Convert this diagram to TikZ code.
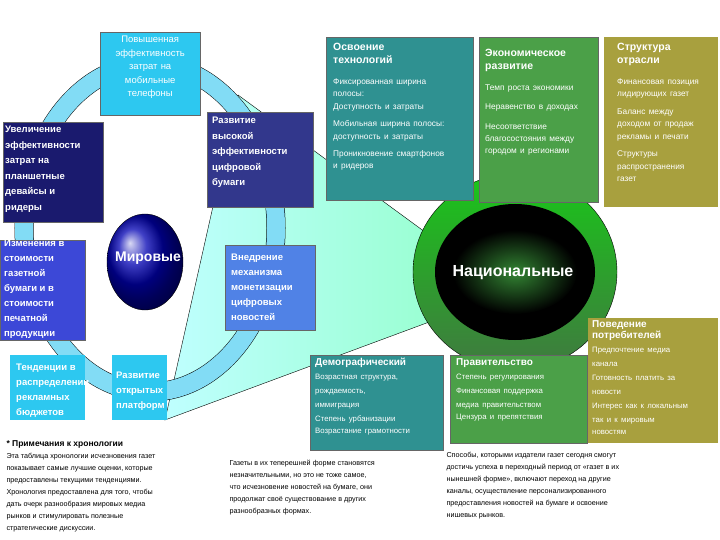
\documentclass[tikz,border=0pt]{standalone}
\usepackage{fontspec}
\setmainfont{Liberation Sans}
\definecolor{cbl}{RGB}{45,200,240}
\definecolor{nav}{RGB}{26,26,110}
\definecolor{cbx}{RGB}{50,55,140}
\definecolor{dbx}{RGB}{60,72,215}
\definecolor{ebx}{RGB}{80,130,230}
\definecolor{tl}{RGB}{47,145,145}
\definecolor{gr}{RGB}{75,160,72}
\definecolor{ol}{RGB}{168,160,62}
\definecolor{ring}{RGB}{130,220,245}
\begin{document}
\begin{tikzpicture}[x=1pt,y=-1pt,
  bg/.style={anchor=north west,inner sep=0pt,draw=black!60,line width=0.4pt},
  tx/.style={anchor=north west,inner sep=4pt,align=left,text=white},
  lb/.style={font=\fontsize{9.5}{15.5}\selectfont\bfseries},
  note/.style={anchor=north west,align=left,font=\fontsize{7.2}{12}\selectfont,text=black}]
\useasboundingbox (0,0) rectangle (720,540);
\fill[white] (0,0) rectangle (720,540);
% wedge
\shade[left color=cyan!25,right color=green!45!cyan!40,draw=black,line width=0.4pt]
  (238,95) -- (425,232) -- (440,318) -- (165,420) -- cycle;
% ring
\draw[line width=19pt,black] (150,228) ellipse [x radius=126,y radius=164];
\draw[line width=18pt,ring] (150,228) ellipse [x radius=126,y radius=164];
% world sphere
\shade[ball color=blue!70!black,draw=black] (145,262) ellipse [x radius=38,y radius=48];
\node[font=\fontsize{14}{16}\selectfont\bfseries,text=white] (mir) at (148,258) {Мировые};
% national
\shade[top color=green!75!black!90,bottom color=green!30!black!75,draw=black] (515,272) ellipse [x radius=102,y radius=98];
\fill[black] (515,272) ellipse [x radius=80,y radius=68];
\shade[inner color=green!40!black!80,outer color=black] (515,272) ellipse [x radius=62,y radius=42];
\node[font=\fontsize{16}{18}\selectfont\bfseries,text=white] (nat) at (513,273) {Национальные};
% left boxes
\node[bg,fill=cbl,minimum width=100pt,minimum height=83pt] (a) at (100,32) {};
\node[tx,align=center,text width=96pt,inner sep=2pt,font=\fontsize{9.5}{13.5}\selectfont] (at) at (100,34) {Повышенная\\эффективность\\затрат на\\мобильные\\телефоны};
\node[bg,fill=nav,minimum width=100pt,minimum height=100pt] (b) at (3,122) {};
\node[tx,inner sep=2pt,lb] (bt) at (3,124) {Увеличение\\эффективности\\затрат на\\планшетные\\девайсы и\\ридеры};
\node[bg,fill=cbx,minimum width=106pt,minimum height=95pt] (c) at (207,112) {};
\node[tx,inner sep=5pt,lb] (ct) at (207,112) {Развитие\\высокой\\эффективности\\цифровой\\бумаги};
\node[bg,fill=dbx,minimum width=85pt,minimum height=100pt] (d) at (0,240) {};
\node[tx,inner sep=2pt,lb,font=\fontsize{9.5}{15}\selectfont\bfseries] (dt) at (2,238) {Изменения в\\стоимости\\газетной\\бумаги и в\\стоимости\\печатной\\продукции};
\node[bg,fill=ebx,minimum width=90pt,minimum height=85pt] (e) at (225,245) {};
\node[tx,inner sep=4pt,lb,font=\fontsize{9.5}{15}\selectfont\bfseries] (et) at (227,250) {Внедрение\\механизма\\монетизации\\цифровых\\новостей};
\node[bg,fill=cbl,draw=none,minimum width=75pt,minimum height=65pt] (f) at (10,355) {};
\node[tx,inner sep=4pt,font=\fontsize{9.5}{15}\selectfont\bfseries] (ft) at (12,360) {Тенденции в\\распределении\\рекламных\\бюджетов};
\node[bg,fill=cbl,draw=none,minimum width=55pt,minimum height=65pt] (g) at (112,355) {};
\node[tx,inner sep=2pt,font=\fontsize{9.5}{15}\selectfont\bfseries] (gt) at (114,370) {Развитие\\открытых\\платформ};
% top right boxes
\node[bg,fill=tl,minimum width=147pt,minimum height=163pt] (h) at (326,37) {};
\node[tx,text width=143pt,inner sep=3pt] (ht) at (330,40)
 {\fontsize{10.5}{13}\selectfont\bfseries Освоение\\технологий\\[8pt]
  \mdseries\fontsize{8.3}{12.5}\selectfont Фиксированная ширина\\полосы:\\Доступность и затраты\\[5pt]
  Мобильная ширина полосы:\\доступность и затраты\\[5pt]
  Проникновение смартфонов\\и ридеров};
\node[bg,fill=gr,minimum width=119pt,minimum height=165pt] (i) at (479,37) {};
\node[tx,text width=116pt,inner sep=3pt] (it) at (482,46)
 {\fontsize{10.5}{13}\selectfont\bfseries Экономическое\\развитие\\[8pt]
  \mdseries\fontsize{8.3}{12.5}\selectfont Темп роста экономики\\[7pt]Неравенство в доходах\\[7pt]
  Несоответствие\\благосостояния между\\городом и регионами};
\node[bg,fill=ol,draw=none,minimum width=114pt,minimum height=170pt] (j) at (604,37) {};
\node[tx,text width=110pt,inner sep=3pt] (jt) at (614,40)
 {\fontsize{10.5}{13}\selectfont\bfseries Структура\\отрасли\\[8pt]
  \mdseries\fontsize{8.3}{12.5}\selectfont Финансовая позиция\\лидирующих газет\\[5pt]
  Баланс между\\доходом от продаж\\рекламы и печати\\[5pt]
  Структуры\\распространения\\газет};
% bottom right boxes
\node[bg,fill=tl,minimum width=133pt,minimum height=95pt] (k) at (310,355) {};
\node[tx,text width=130pt,inner sep=2pt] (kt) at (313,356)
 {\fontsize{10}{12}\selectfont\bfseries Демографический\\
  \mdseries\fontsize{7.8}{14}\selectfont Возрастная структура,\\рождаемость,\\иммиграция\\Степень урбанизации\\Возрастание грамотности};
\node[bg,fill=gr,minimum width=137pt,minimum height=88pt] (l) at (450,355) {};
\node[tx,text width=133pt,inner sep=2pt] (lt) at (454,356)
 {\fontsize{10}{12}\selectfont\bfseries Правительство\\
  \mdseries\fontsize{7.8}{14}\selectfont Степень регулирования\\Финансовая поддержка\\медиа правительством\\Цензура и препятствия};
\node[bg,fill=ol,draw=none,minimum width=130pt,minimum height=125pt] (m) at (588,318) {};
\node[tx,text width=128pt,inner sep=2pt] (mt) at (590,318)
 {\fontsize{10}{11}\selectfont\bfseries Поведение\\потребителей\\
  \mdseries\fontsize{7.8}{14}\selectfont Предпочтение медиа\\канала\\Готовность платить за\\новости\\Интерес как к локальным\\так и к мировым\\новостям};
% notes
\node[note] (n1) at (3,437) {{\fontsize{8.5}{11}\selectfont\bfseries * Примечания к хронологии}\\Эта таблица хронологии исчезновения газет\\показывает самые лучшие оценки, которые\\предоставлены текущими тенденциями.\\Хронология предоставлена для того, чтобы\\дать очерк разнообразия мировых медиа\\рынков и стимулировать полезные\\стратегические дискуссии.};
\node[note] (n2) at (226,457) {Газеты в их теперешней форме становятся\\незначительными, но это не тоже самое,\\что исчезновение новостей на бумаге, они\\продолжат своё существование в других\\разнообразных формах.};
\node[note] (n3) at (443,449) {Способы, которыми издатели газет сегодня смогут\\достичь успеха в переходный период от «газет в их\\нынешней форме», включают переход на другие\\каналы, осуществление персонализированного\\предоставления новостей на бумаге и освоение\\нишевых рынков.};
\end{tikzpicture}
\end{document}
